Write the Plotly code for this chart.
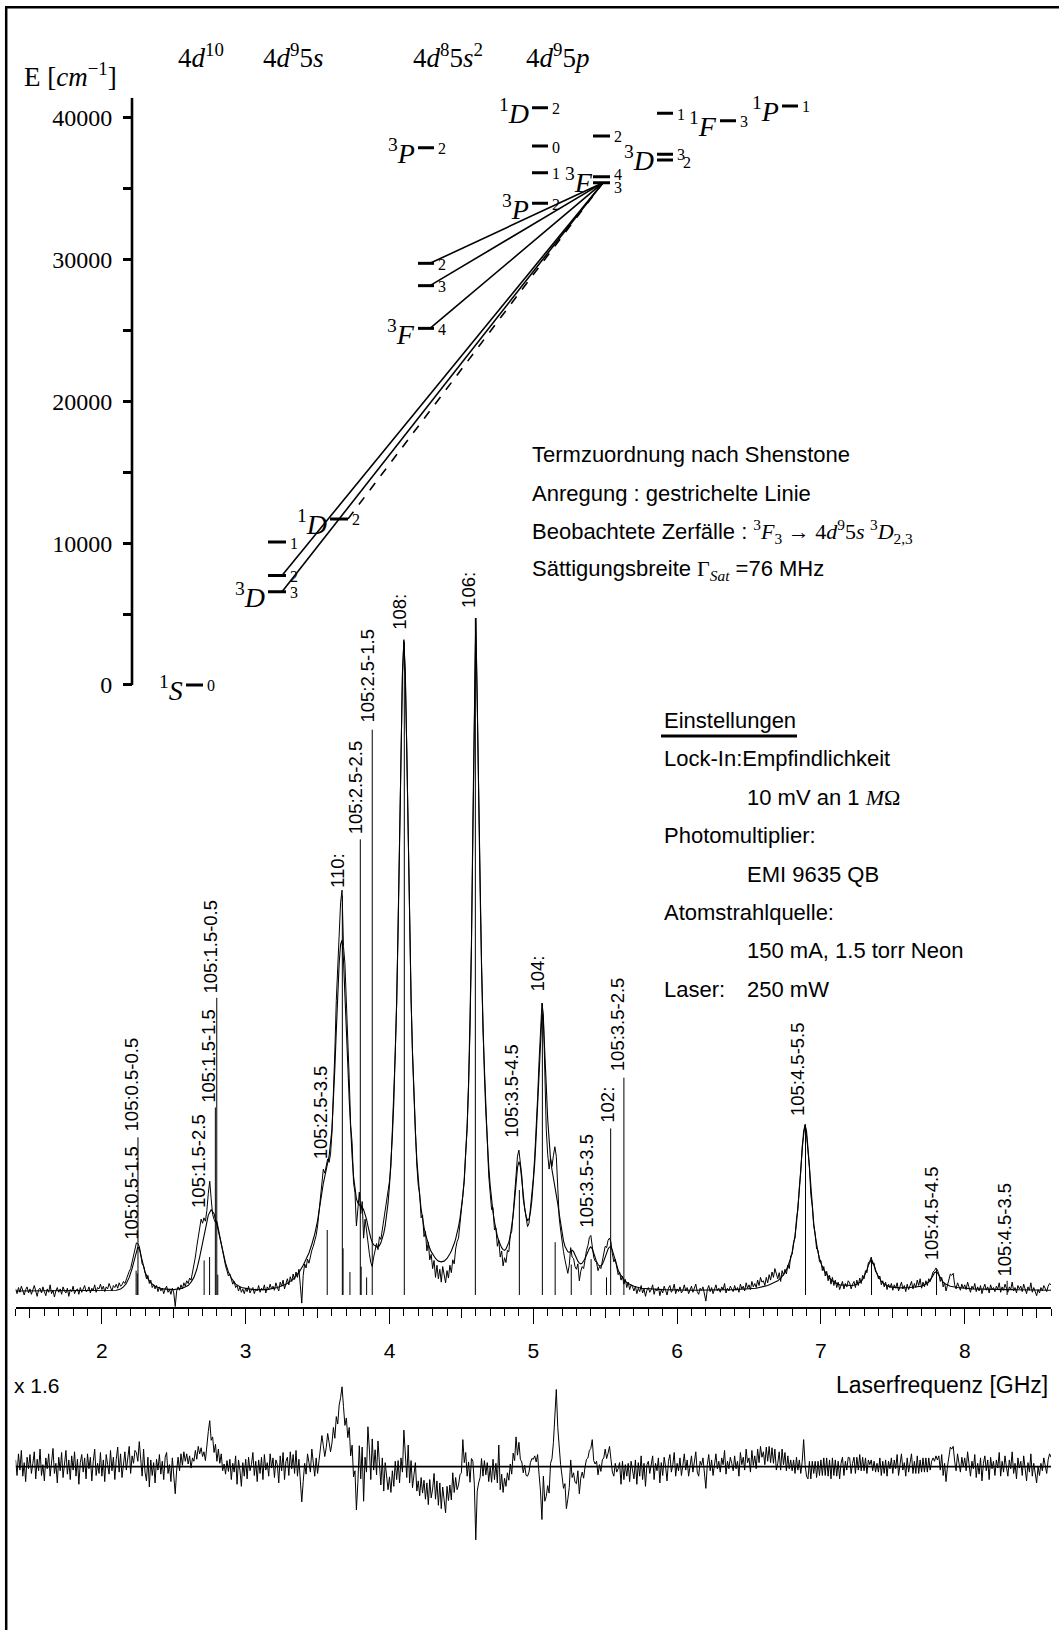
import plotly.graph_objects as go

W, H = 1059, 1630


def PX(x):
    return x / W


def PY(y):
    return 1 - y / H


# ============================ DATA ============================
# ---- energy level diagram (Pd I), energies in cm^-1 ----
config_labels = ["4<i>d</i><sup>10</sup>", "4<i>d</i><sup>9</sup>5<i>s</i>",
                 "4<i>d</i><sup>8</sup>5<i>s</i><sup>2</sup>", "4<i>d</i><sup>9</sup>5<i>p</i>"]
energy_ticks = [0, 10000, 20000, 30000, 40000]
energy_minor = [5000, 15000, 25000, 35000]

lvl_mult = ["1", "3", "", "", "1", "3", "", "", "3", "1", "", "", "3", "3", "", "", "3", "", "", "1", "1"]
lvl_term = ["S", "D", "", "", "D", "F", "", "", "P", "D", "", "", "P", "F", "", "", "D", "", "", "F", "P"]
lvl_J = ["0", "3", "2", "1", "2", "4", "3", "2", "2", "2", "0", "1", "2", "4", "3", "2", "3", "2", "1", "3", "1"]
lvl_E = [0, 6570, 7720, 10080, 11710, 25140, 28150, 29725, 37880,
         40690, 37990, 36110, 33960, 35830, 35410, 38700, 37410, 37010, 40300, 39780, 40815]
lvl_col = ["c0", "c1", "c1", "c1", "c1b", "c2", "c2", "c2", "c2",
           "c3a", "c3a", "c3a", "c3a", "c3b", "c3b", "c3b", "c3c", "c3c", "c3c", "c3d", "c3e"]

trans_upper = 14             # 4d9 5p 3F3
trans_lower = [7, 6, 5, 2, 1]  # observed decays
excite_lower = 4             # excitation (dashed)

# ---- spectrum (Laserfrequenz in GHz, signal in arbitrary units) ----
meas_start = 1.40
meas_step = 0.01
meas_y = [
    0.9, 0.2, 1.1, 0.4, 1.3, 0.5, 0.0, 0.8, 1.2, 0.3,
    0.9, 0.1, 0.7, 1.4, 0.6, -0.2, 0.8, 1.0, 0.3, 1.2,
    0.5, -0.1, 0.9, 0.4, 1.5, 0.2, 0.7, -0.3, 0.6, 1.1,
    0.4, 0.9, 0.1, 1.2, 0.6, 0.3, 1.0, -0.2, 0.8, 0.5,
    1.3, 0.2, 0.7, 0.9, 0.1, 1.1, 0.4, 0.8, 1.4, 0.5,
    0.6, 1.2, 0.3, 1.0, 0.7, 1.5, 0.4, 1.1, 0.9, 1.6,
    0.8, 1.3, 0.5, 1.2, 0.9, 1.7, 1.0, 0.6, 1.4, 1.1,
    1.6, 1.0, 1.8, 1.3, 1.5, 2.0, 1.7, 2.4, 2.8, 3.5,
    3.9, 4.9, 5.6, 6.8, 7.7, 7.6, 7.2, 6.1, 4.6, 4.3,
    3.1, 2.4, 2.9, 1.7, 2.2, 1.1, 1.5, 0.9, 1.4, 0.5,
    1.2, 0.6, 1.0, 0.2, 0.9, 1.3, 0.4, 0.8, 0.1, 1.0,
    0.3, -1.7, 0.6, 1.2, 0.7, 1.5, 0.9, 1.8, 1.3, 2.1,
    1.7, 2.5, 2.2, 3.4, 4.1, 5.6, 7.2, 8.6, 10.1, 11.2,
    10.6, 11.4, 10.9, 12.5, 15.0, 16.8, 14.2, 11.9, 11.2, 10.7,
    10.9, 9.8, 8.7, 7.6, 6.2, 4.9, 4.3, 3.6, 2.8, 3.1,
    2.2, 1.6, 2.0, 1.1, 1.4, 0.6, 1.2, 0.4, 0.9, 0.2,
    1.0, 0.5, 1.3, 0.3, 0.8, 1.1, 0.2, 0.9, 0.6, 1.4,
    0.4, 1.0, 0.7, 1.5, 0.3, 1.2, 0.8, 1.6, 0.9, 1.3,
    0.7, 1.8, 1.1, 0.6, 1.9, 1.3, 2.2, 0.9, 1.7, 2.4,
    1.5, 2.7, 2.0, 3.1, 2.3, 3.4, 2.6, 3.8, 1.4, -1.2,
    2.9, 4.6, 4.0, 5.3, 4.7, 5.9, 6.6, 7.2, 8.0, 8.8,
    10.2, 12.4, 14.8, 17.5, 18.6, 18.0, 19.2, 20.1, 19.6, 20.8,
    24.0, 29.5, 36.0, 43.5, 49.0, 52.5, 58.0, 59.8, 51.5, 49.0,
    44.0, 36.5, 32.0, 25.0, 22.5, 16.6, 15.1, 10.2, 12.2, 15.2,
    12.0, 13.8, 8.4, 11.2, 9.6, 7.4, 6.1, 4.8, 4.2, 5.6,
    6.5, 7.6, 6.7, 8.6, 8.2, 9.6, 10.8, 12.5, 14.2, 15.0,
    16.8, 19.0, 24.2, 28.0, 35.6, 43.0, 54.5, 66.0, 80.5, 91.5,
    96.8, 91.4, 81.0, 66.5, 55.0, 43.6, 36.0, 28.4, 24.5, 19.2,
    16.2, 15.0, 11.4, 11.8, 8.6, 9.4, 6.5, 7.8, 5.2, 6.0,
    3.9, 5.1, 2.6, 4.4, 2.4, 3.8, 1.9, 4.2, 2.7, 1.8,
    3.6, 2.5, 4.4, 3.3, 5.2, 4.6, 6.8, 7.9, 8.4, 10.6,
    12.2, 14.9, 16.8, 20.9, 24.6, 31.4, 39.0, 52.0, 69.5, 88.5,
    100.0, 87.5, 72.5, 59.0, 49.2, 39.0, 33.1, 26.2, 22.9, 17.6,
    15.4, 12.6, 12.9, 9.6, 9.9, 7.2, 8.1, 5.6, 6.5, 4.3,
    5.5, 4.8, 6.6, 6.4, 8.9, 9.4, 12.0, 14.6, 17.8, 20.5,
    21.4, 19.8, 17.6, 14.2, 12.8, 10.9, 10.1, 10.6, 12.6, 14.8,
    17.2, 20.5, 24.0, 29.2, 34.5, 39.8, 43.1, 41.5, 33.0, 24.5,
    20.8, 18.6, 20.2, 19.0, 20.6, 21.9, 20.5, 15.2, 11.4, 9.6,
    7.8, 6.4, 5.2, 4.1, 3.2, 4.4, 7.0, 5.6, 5.4, 4.2,
    3.8, 4.6, 2.1, 3.5, 4.2, 3.9, 5.4, 6.6, 7.3, 8.5,
    8.8, 7.4, 5.6, 5.0, 4.8, 3.6, 4.2, 3.9, 5.1, 5.8,
    7.2, 7.0, 8.1, 8.4, 7.8, 6.1, 4.9, 5.3, 3.8, 3.0,
    3.4, 2.2, 2.8, 1.6, 2.3, 1.1, 1.9, 0.8, 1.5, 1.2,
    0.6, 1.3, 0.2, 1.0, 0.5, 1.4, 0.3, 0.9, -0.2, 0.7,
    1.1, 0.4, 0.8, 1.5, 0.1, 0.9, 0.6, 1.2, -0.1, 0.8,
    0.3, 1.3, 0.7, 0.0, 1.0, 1.4, 0.4, 0.8, 1.6, 0.2,
    0.9, 0.5, 1.2, 0.3, 0.7, 1.5, 0.6, 1.1, 0.2, 0.8,
    1.3, 0.4, 0.9, 1.6, 0.5, 0.1, 1.0, 0.7, 1.2, 0.3,
    -0.9, 0.8, 1.4, 0.5, 1.1, 0.2, 0.9, 1.5, 0.6, 1.0,
    0.4, 1.2, 0.8, 1.7, 0.3, 1.0, 0.6, 1.3, 0.9, 0.5,
    1.4, 0.7, 1.1, 0.4, 1.6, 0.9, 1.3, 0.6, 1.8, 1.0,
    1.5, 0.8, 2.0, 1.2, 1.7, 1.1, 2.2, 1.4, 2.6, 1.9,
    2.1, 1.4, 2.6, 1.8, 3.0, 2.2, 3.4, 2.6, 3.9, 3.1,
    2.4, 3.3, 2.0, 3.6, 2.9, 3.8, 3.1, 4.4, 3.9, 5.8,
    6.0, 7.8, 8.4, 11.2, 12.6, 15.9, 18.2, 22.0, 24.0, 25.2,
    23.6, 21.0, 18.9, 14.8, 13.1, 10.2, 9.1, 6.8, 6.6, 4.9,
    5.1, 3.6, 4.2, 2.8, 3.5, 2.1, 2.9, 1.6, 2.6, 1.4,
    2.2, 1.1, 1.9, 0.8, 1.6, 2.0, 0.9, 1.7, 1.2, 2.1,
    1.8, 0.9, 1.6, 2.0, 1.1, 2.2, 1.4, 2.5, 1.7, 2.9,
    2.4, 3.6, 3.3, 4.8, 5.0, 5.6, 4.6, 4.7, 3.4, 3.3,
    2.4, 2.8, 1.5, 2.1, 1.2, 1.9, 0.8, 1.6, 1.1, 1.7,
    0.7, 1.5, 1.0, 1.8, 0.6, 1.3, 1.9, 0.9, 1.4, 0.5,
    1.6, 0.8, 1.3, 2.0, 0.9, 1.7, 1.1, 2.2, 1.4, 2.4,
    1.0, 1.9, 1.2, 2.1, 1.4, 2.4, 2.0, 2.8, 3.4, 3.6,
    4.0, 3.7, 3.1, 2.0, 2.6, 1.2, 1.8, 0.6, 1.4, 2.2,
    3.1, 2.9, 3.2, 1.5, 0.9, 1.8, 1.2, 0.7, 1.6, 1.0,
    1.5, 0.8, 1.9, 1.1, 0.4, 1.3, 0.9, 1.7, 0.5, 1.2,
    0.6, 1.4, 0.2, 1.0, 1.6, 0.7, 1.2, 0.3, 1.5, 0.8,
    1.1, 0.5, 1.3, 0.9, 1.8, 0.4, 1.2, 0.7, 1.6, 1.0,
    0.4, 1.2, 0.8, 1.9, 0.6, 1.1, 0.3, 1.4, 0.9, 1.3,
    0.5, 1.6, 1.0, 0.2, 1.2, 0.7, 1.8, 0.4, 1.1, 0.6,
    -0.1, 0.8, 0.3, 1.1, 0.6, 1.4, 0.9, 0.5, 1.3, 1.7,
    1.5,
]

fit_points = [
    (1.40, 0.6), (1.80, 0.6), (2.05, 0.6), (2.10, 0.7), (2.13, 0.9), (2.15, 1.2), (2.17, 1.7),
    (2.19, 2.6), (2.21, 3.9), (2.23, 5.6), (2.24, 6.5), (2.25, 7.1), (2.26, 6.8), (2.27, 6.0),
    (2.28, 5.0), (2.29, 4.1), (2.30, 3.4), (2.32, 2.4), (2.34, 1.8), (2.37, 1.3), (2.42, 0.9),
    (2.50, 0.8), (2.56, 1.0), (2.60, 1.4), (2.62, 1.9), (2.64, 2.6), (2.66, 3.8), (2.68, 5.6),
    (2.70, 7.8), (2.72, 10.0), (2.74, 11.8), (2.76, 12.6), (2.78, 12.0), (2.80, 10.4), (2.82, 8.4),
    (2.84, 6.4), (2.86, 4.7), (2.88, 3.4), (2.90, 2.5), (2.93, 1.6), (2.97, 1.1), (3.05, 0.8),
    (3.15, 0.8), (3.22, 1.1), (3.28, 1.6), (3.33, 2.3), (3.37, 3.3), (3.40, 4.4), (3.42, 5.2),
    (3.44, 6.2), (3.46, 7.5), (3.48, 9.0), (3.50, 11.0), (3.52, 13.8), (3.54, 16.5), (3.56, 18.5),
    (3.58, 20.5), (3.60, 24.5), (3.61, 28.5), (3.62, 33.5), (3.63, 39.0), (3.64, 44.5), (3.65, 49.0),
    (3.66, 51.8), (3.67, 52.4), (3.68, 49.5), (3.69, 45.0), (3.70, 39.6), (3.71, 34.0), (3.72, 28.8),
    (3.73, 24.0), (3.74, 20.5), (3.75, 17.5), (3.76, 15.5), (3.77, 14.2), (3.78, 13.6), (3.79, 13.3),
    (3.80, 13.2), (3.81, 13.0), (3.82, 12.6), (3.83, 12.0), (3.84, 11.2), (3.85, 10.2), (3.86, 9.2),
    (3.87, 8.4), (3.88, 7.8), (3.89, 7.4), (3.90, 7.3), (3.91, 7.1), (3.92, 7.1), (3.93, 7.3),
    (3.94, 7.7), (3.95, 8.3), (3.96, 9.1), (3.97, 10.2), (3.98, 11.7), (3.99, 13.6), (4.00, 16.2),
    (4.01, 19.5), (4.02, 23.5), (4.03, 28.5), (4.04, 35.0), (4.05, 43.5), (4.06, 54.0), (4.07, 66.5),
    (4.08, 80.0), (4.09, 92.0), (4.10, 96.5), (4.11, 92.0), (4.12, 80.5), (4.13, 67.0), (4.14, 54.5),
    (4.15, 44.0), (4.16, 35.5), (4.17, 29.0), (4.18, 24.0), (4.19, 20.0), (4.20, 17.0), (4.21, 14.6),
    (4.22, 12.7), (4.23, 11.2), (4.24, 10.0), (4.25, 9.0), (4.26, 8.2), (4.27, 7.5), (4.28, 6.9),
    (4.29, 6.4), (4.30, 6.0), (4.31, 5.7), (4.32, 5.4), (4.33, 5.2), (4.34, 5.0), (4.36, 4.9),
    (4.38, 5.0), (4.40, 5.4), (4.41, 5.7), (4.42, 6.1), (4.43, 6.5), (4.44, 7.0), (4.45, 7.6),
    (4.46, 8.3), (4.47, 9.1), (4.48, 10.1), (4.49, 11.3), (4.50, 12.8), (4.51, 14.7), (4.52, 17.2),
    (4.53, 20.5), (4.54, 25.0), (4.55, 31.0), (4.56, 39.5), (4.57, 51.5), (4.58, 70.0), (4.59, 88.0),
    (4.60, 100.0), (4.61, 88.0), (4.62, 72.0), (4.63, 60.0), (4.64, 48.5), (4.65, 39.5), (4.66, 32.5),
    (4.67, 27.0), (4.68, 22.5), (4.69, 19.0), (4.70, 16.2), (4.71, 14.0), (4.72, 12.2), (4.73, 10.8),
    (4.74, 9.6), (4.75, 8.7), (4.76, 8.0), (4.77, 7.4), (4.78, 7.0), (4.79, 6.7), (4.80, 6.6),
    (4.81, 6.8), (4.82, 7.2), (4.83, 7.8), (4.84, 8.7), (4.85, 10.0), (4.86, 11.8), (4.87, 14.0),
    (4.88, 16.5), (4.89, 18.8), (4.90, 19.7), (4.91, 19.0), (4.92, 17.0), (4.93, 14.8), (4.94, 12.8),
    (4.95, 11.6), (4.96, 11.0), (4.97, 11.2), (4.98, 12.2), (4.99, 14.0), (5.00, 16.5), (5.01, 19.5),
    (5.02, 23.5), (5.03, 28.0), (5.04, 33.5), (5.05, 38.5), (5.06, 41.5), (5.07, 40.5), (5.08, 36.5),
    (5.09, 31.0), (5.10, 26.0), (5.11, 22.5), (5.12, 20.0), (5.13, 18.5), (5.14, 17.3), (5.15, 16.3),
    (5.16, 15.0), (5.17, 13.5), (5.18, 12.0), (5.19, 10.5), (5.20, 9.2), (5.21, 8.0), (5.22, 7.2),
    (5.23, 6.7), (5.24, 6.4), (5.25, 6.3), (5.26, 6.5), (5.27, 6.6), (5.28, 6.4), (5.29, 5.9),
    (5.30, 5.4), (5.31, 5.0), (5.32, 4.7), (5.33, 4.6), (5.34, 4.7), (5.35, 5.0), (5.36, 5.4),
    (5.37, 5.9), (5.38, 6.5), (5.39, 6.9), (5.40, 7.1), (5.41, 6.8), (5.42, 6.2), (5.43, 5.5),
    (5.44, 4.9), (5.45, 4.5), (5.46, 4.3), (5.47, 4.3), (5.48, 4.5), (5.49, 5.0), (5.50, 5.6),
    (5.51, 6.3), (5.52, 6.8), (5.53, 7.1), (5.54, 7.1), (5.55, 6.6), (5.56, 5.8), (5.57, 5.0),
    (5.58, 4.3), (5.59, 3.7), (5.60, 3.2), (5.62, 2.5), (5.64, 2.0), (5.66, 1.7), (5.70, 1.3),
    (5.75, 1.0), (5.80, 0.9), (5.90, 0.8), (6.10, 0.7), (6.40, 0.8), (6.55, 1.0), (6.60, 1.2),
    (6.63, 1.4), (6.66, 1.7), (6.68, 1.9), (6.70, 2.1), (6.72, 2.5), (6.74, 3.0), (6.76, 3.7),
    (6.78, 4.7), (6.79, 5.4), (6.80, 6.3), (6.81, 7.4), (6.82, 8.8), (6.83, 10.6), (6.84, 12.8),
    (6.85, 15.5), (6.86, 18.6), (6.87, 21.7), (6.88, 24.2), (6.89, 25.1), (6.90, 24.2), (6.91, 21.7),
    (6.92, 18.6), (6.93, 15.5), (6.94, 12.8), (6.95, 10.6), (6.96, 8.8), (6.97, 7.4), (6.98, 6.3),
    (6.99, 5.4), (7.00, 4.7), (7.02, 3.7), (7.04, 3.0), (7.06, 2.5), (7.08, 2.1), (7.10, 1.8),
    (7.13, 1.5), (7.18, 1.4), (7.22, 1.4), (7.25, 1.6), (7.27, 1.8), (7.28, 2.0), (7.29, 2.3),
    (7.30, 2.7), (7.31, 3.1), (7.32, 3.7), (7.33, 4.4), (7.34, 4.9), (7.35, 5.2), (7.36, 4.9),
    (7.37, 4.4), (7.38, 3.7), (7.39, 3.1), (7.40, 2.7), (7.41, 2.3), (7.42, 2.0), (7.43, 1.8),
    (7.45, 1.5), (7.48, 1.2), (7.55, 1.05), (7.62, 1.1), (7.66, 1.2), (7.70, 1.3), (7.72, 1.5),
    (7.74, 1.7), (7.75, 1.9), (7.76, 2.2), (7.77, 2.5), (7.78, 2.9), (7.79, 3.3), (7.80, 3.4),
    (7.81, 3.3), (7.82, 2.9), (7.83, 2.5), (7.84, 2.2), (7.85, 1.9), (7.86, 1.7), (7.88, 1.5),
    (7.90, 1.3), (7.95, 1.1), (8.05, 0.9), (8.30, 0.8), (8.60, 0.7),
]

stick_x = [2.238, 2.246, 2.251, 2.711, 2.749, 2.789, 2.799, 2.806, 3.567, 3.672, 3.677, 3.725,
           3.797, 3.803, 3.841, 3.880, 4.103, 4.597, 4.903, 5.063, 5.152, 5.264, 5.402, 5.509,
           5.538, 5.630, 6.893, 7.352, 7.804, 8.295]
stick_h = [3.6, 3.2, 23.3, 5.1, 5.6, 27.7, 43.9, 3.0, 9.6, 59.0, 6.9, 3.4,
           67.3, 4.2, 2.6, 83.5, 96.5, 100.0, 15.5, 43.1, 7.8, 4.5, 5.3, 2.6,
           24.6, 32.1, 25.2, 5.1, 3.8, 2.1]

label_text = ["105:0.5-1.5", "105:0.5-0.5", "105:1.5-2.5", "105:1.5-1.5", "105:1.5-0.5",
              "105:2.5-3.5", "110:", "105:2.5-2.5", "105:2.5-1.5", "108:", "106:",
              "105:3.5-4.5", "104:", "105:3.5-3.5", "102:", "105:3.5-2.5",
              "105:4.5-5.5", "105:4.5-4.5", "105:4.5-3.5"]
label_x = [2.204, 2.204, 2.670, 2.745, 2.755, 3.521, 3.637, 3.765, 3.848, 4.068, 4.553,
           4.850, 5.029, 5.364, 5.510, 5.586, 6.839, 7.768, 8.276]
label_y = [7.9, 23.9, 12.6, 28.1, 44.3, 19.7, 59.8, 67.7, 84.2, 98.0, 101.2,
           22.9, 44.6, 9.6, 25.1, 32.7, 26.1, 4.9, 2.5]

# residual (measured - fit), already multiplied by 1.6
resid_y = [
    1.0, -1.3, 1.9, -0.5, 2.4, -1.4, 0.6, -2.2, 1.4, -0.3,
    1.8, -1.0, 0.5, 2.2, -1.8, 1.1, -0.6, 2.6, -1.3, 0.3,
    -2.1, 1.3, -0.3, 1.9, -1.4, 0.8, 2.7, -1.0, 0.5, -2.4,
    1.4, -0.6, 2.1, -1.6, 0.3, 2.4, -1.1, 1.0, -1.9, 1.6,
    -0.5, 2.2, -1.4, 1.1, -2.6, 0.6, 1.8, -0.8, 1.3, -1.8,
    1.9, -0.3, 1.4, -2.1, 0.8, 2.6, -1.3, 0.5, -1.0, 2.1,
    -1.4, 1.0, -2.2, 1.8, 0.3, -1.1, 2.4, -0.6, 1.4, -1.9,
    1.1, 2.9, -0.8, 1.9, -1.6, 0.6, 2.2, -0.5, 1.3, 3.0,
    -1.0, 1.6, 0.5, 2.4, 2.1, 0.8, 3.7, 0.3, -1.4, 2.6,
    -0.8, -2.1, 1.4, -3.0, 1.0, -1.3, 0.6, -2.4, 1.1, -0.5,
    1.8, -1.1, 0.8, -1.9, 1.4, 2.1, -1.0, 0.3, -2.2, 1.3,
    -1.3, -4.0, -0.5, 1.4, -0.6, 1.9, 0.2, 2.2, 0.8, 1.9,
    0.4, 1.6, -0.2, 1.3, 0.8, 2.4, 1.1, 3.0, 1.9, 2.8,
    1.5, 2.2, 0.9, 3.6, 5.2, 6.8, 3.9, 4.4, 2.1, 3.3,
    0.8, 2.6, 0.5, 1.9, -0.6, 0.4, -1.1, 0.9, -0.7, 1.1,
    -1.9, 0.5, -0.8, 1.6, -2.6, 1.0, -0.5, -2.9, 0.6, -1.4,
    1.1, -1.8, 1.4, -0.6, 0.3, 2.1, -1.3, 0.8, -2.2, 1.0,
    -1.0, 1.4, -1.9, 1.8, -0.5, 0.6, -1.4, 1.9, -0.2, 1.3,
    -1.6, 1.0, 0.3, -2.4, 1.6, -0.6, 2.1, -1.9, 0.8, 1.4,
    -1.3, 2.2, -0.3, 1.8, -1.0, 2.4, -1.4, 1.1, -2.6, -5.2,
    -2.2, 0.5, -1.1, 1.9, 0.6, -0.8, 2.6, 0.3, -1.4, 1.3,
    -1.0, 0.9, 2.4, 4.6, 3.1, 1.5, 2.8, 4.9, 3.6, 2.2,
    3.5, 5.8, 4.2, 7.4, 6.3, 9.1, 10.2, 11.8, 8.9, 6.1,
    7.2, 4.3, 5.8, 1.6, 3.2, -1.5, -0.6, -6.4, -2.3, 3.1,
    -1.8, 2.9, -5.1, 1.4, -0.8, 5.9, 2.6, -1.9, 4.1, -0.5,
    2.5, -1.2, 3.8, 0.4, -2.7, 1.3, -3.6, 0.6, -2.1, -3.4,
    -1.5, -3.8, -0.6, -2.9, 0.8, -1.9, 0.9, -2.4, 1.3, -0.8,
    5.4, 1.2, -1.6, 3.2, -2.4, 0.9, -3.1, -1.2, 0.6, -3.6,
    -2.1, -4.3, -1.6, -3.9, -2.0, -4.8, -2.4, -5.6, -1.9, -4.6,
    -3.3, -1.0, -4.8, -2.1, -5.7, -2.4, -6.2, -3.0, -4.6, -6.8,
    -2.9, -5.0, -2.7, -4.9, -0.9, -3.8, -1.6, -3.4, -2.7, -1.2,
    -0.9, 4.0, 0.6, 2.1, -1.4, 0.7, -2.3, 1.2, 0.8, -2.6,
    -10.8, -3.6, -2.4, -1.6, 1.2, -1.4, 0.9, -1.2, 0.6, -2.2,
    -0.1, -2.3, 1.1, -1.9, 0.5, -2.4, 3.2, -3.4, -1.1, -3.8,
    -1.7, -2.9, -0.9, -2.0, 0.4, -1.1, 2.0, 0.9, 4.4, 1.7,
    3.6, 1.1, 0.7, -0.9, 0.2, -1.3, -1.4, -0.8, 0.6, 1.2,
    1.1, 1.6, 0.7, 1.8, -1.1, -3.6, -7.8, -1.4, -5.1, -4.4,
    -2.8, -3.9, 0.5, 1.2, 3.6, 6.9, 11.4, 5.8, 2.4, 0.3,
    -1.4, -3.2, -2.5, -6.2, -4.8, -3.1, 1.0, -1.6, -0.9, -2.3,
    -2.5, -0.6, -4.0, -1.7, -0.8, -1.7, 0.0, 1.1, 1.3, 2.4,
    2.7, 4.0, 0.9, 0.4, 0.8, -1.2, 0.3, -0.7, 1.0, 1.3,
    2.6, 1.2, 2.0, 3.0, 1.1, -0.8, -1.4, 0.5, -0.8, -0.3,
    0.6, -2.6, 0.8, -1.9, 0.3, -1.4, 0.5, -2.2, 0.8, -0.3,
    -1.8, 1.0, -2.6, 0.6, -1.4, 1.6, -1.9, 0.5, -2.9, 0.3,
    0.8, -1.0, 0.2, 1.6, -1.9, 0.5, -0.6, 1.3, -2.4, 0.6,
    -1.3, 1.4, 0.0, -2.1, 0.8, 1.8, -0.8, 0.3, 2.1, -1.4,
    0.5, -0.6, 1.3, -1.3, 0.2, 1.9, -0.5, 1.0, -1.4, 0.3,
    1.6, -0.8, 0.5, 2.2, -0.8, -1.4, 0.8, 0.2, 1.3, -1.0,
    -3.2, 0.3, 1.8, -0.6, 1.0, -1.3, 0.6, 1.9, -0.3, 0.8,
    -0.8, 1.3, 0.3, 2.4, -1.1, 0.8, -0.3, 1.4, 0.5, -0.6,
    1.6, -0.3, 0.8, -1.4, 2.1, 0.3, 1.4, -0.5, 2.6, 0.6,
    1.3, -0.8, 2.4, 0.2, 1.6, -0.3, 2.6, 0.6, 3.0, 1.4,
    2.2, 0.3, 2.9, 0.8, 3.0, 0.6, 2.8, 0.5, 2.6, -0.5,
    0.5, 2.2, -0.5, 2.6, 0.3, 2.1, -0.6, 1.6, -0.3, 1.0,
    -0.6, 1.0, -1.0, 1.4, -0.5, 1.0, -1.0, 0.8, 4.0, 0.3,
    -1.4, -1.8, 0.8, -1.8, 0.8, -1.0, 0.8, -1.6, 0.8, -1.3,
    1.0, -1.3, 1.3, -1.3, 1.3, -1.4, 1.0, -1.8, 1.3, -1.3,
    1.0, -1.4, 0.8, -1.8, 0.5, 1.4, -1.3, 0.8, -0.5, 1.4,
    1.3, -1.0, 0.5, 1.4, -1.0, 1.4, -0.5, 1.8, -0.6, 1.4,
    -0.6, 1.3, -1.0, 1.0, 0.3, 1.0, -0.6, 0.8, -0.8, 0.5,
    -0.8, 1.3, -1.3, 0.8, -1.0, 1.0, -1.4, 0.8, -0.3, 1.3,
    -1.0, 1.0, -0.3, 1.8, -1.3, 0.5, 1.9, -0.5, 0.6, -1.4,
    1.3, -0.8, 0.3, 1.9, -1.0, 0.8, -1.0, 1.6, -1.0, 1.0,
    -0.8, 1.3, -0.8, 1.3, -0.8, 1.3, -0.5, 0.8, 1.3, 0.8,
    1.6, 1.0, 1.6, -0.5, 1.8, -1.3, 0.5, -2.2, 0.0, 1.9,
    2.9, 2.6, 3.0, 0.8, -0.6, 1.9, 0.5, -0.8, 1.4, 0.0,
    1.3, -0.6, 2.2, 0.3, -1.4, 0.8, -0.3, 1.8, -1.6, 0.5,
    -1.1, 1.3, -2.1, 0.5, 1.6, -0.6, 1.0, -1.9, 1.4, -0.3,
    0.8, -1.3, 1.0, -0.2, 2.1, -1.4, 0.8, -0.8, 1.6, 0.0,
    -1.4, 1.0, -0.3, 2.2, -1.0, 0.5, -1.8, 1.3, -0.2, 0.8,
    -1.3, 1.6, 0.0, -2.1, 0.6, -0.8, 1.9, -1.4, 0.5, -1.0,
    -2.4, 0.0, -1.3, 0.5, -0.6, 1.3, 0.2, -1.0, 1.0, 1.9,
    1.4,
]

freq_ticks = [2, 3, 4, 5, 6, 7, 8]
freq_half_ticks = [1.5, 2.5, 3.5, 4.5, 5.5, 6.5, 7.5, 8.5]

# ============================ LAYOUT CONSTANTS ============================
SERIF = "Liberation Serif, DejaVu Serif, serif"
SANS = "Liberation Sans, Arial, sans-serif"
COLS = {"c0": (186, 203), "c1": (268, 286), "c1b": (330, 348), "c2": (418, 434),
        "c3a": (532, 548), "c3b": (593, 610), "c3c": (657, 673), "c3d": (720, 736), "c3e": (782, 798)}
J_DX = {17: 6}
J_DY = {13: 3, 14: -4, 16: 1, 17: -2}
TERM_DX = {13: 3}

E_PIX0, E_PPU = 685.0, 0.014186   # y pixel of E=0, pixels per cm^-1
E_MIN, E_MAX = -1500, 41400
S_PIX0, S_PPU = 1295.0, 6.77      # y pixel of signal 0, pixels per unit
S_MIN, S_MAX = -1.77, 105.0
R_PIX0 = 1466.7
R_MIN, R_MAX = -22.64, 12.07
F_MIN, F_MAX = 1.40, 8.60

fig = go.Figure()

# ---- energy diagram traces ----
fig.add_trace(go.Scatter(x=[132, 132], y=[0, E_MAX], mode="lines", xaxis="x", yaxis="y",
                         line=dict(color="black", width=2.6), hoverinfo="skip"))
lx, ly = [], []
for E, c in zip(lvl_E, lvl_col):
    x0, x1 = COLS[c]
    lx += [x0, x1, None]
    ly += [E, E, None]
fig.add_trace(go.Scatter(x=lx, y=ly, mode="lines", xaxis="x", yaxis="y",
                         line=dict(color="black", width=3), hoverinfo="skip"))

ux = COLS[lvl_col[trans_upper]][0] + 10
uE = lvl_E[trans_upper]
tx, ty = [], []
for i in trans_lower:
    tx += [COLS[lvl_col[i]][1] - 4, ux, None]
    ty += [lvl_E[i], uE, None]
fig.add_trace(go.Scatter(x=tx, y=ty, mode="lines", xaxis="x", yaxis="y",
                         line=dict(color="black", width=1.6), hoverinfo="skip"))
fig.add_trace(go.Scatter(x=[COLS[lvl_col[excite_lower]][1], ux], y=[lvl_E[excite_lower], uE],
                         mode="lines", xaxis="x", yaxis="y",
                         line=dict(color="black", width=1.6, dash="dash"), hoverinfo="skip"))

# ---- spectrum traces ----
meas_x = [round(meas_start + meas_step * i, 3) for i in range(len(meas_y))]
fig.add_trace(go.Scatter(x=meas_x, y=meas_y, mode="lines", xaxis="x2", yaxis="y2",
                         line=dict(color="black", width=1), hoverinfo="skip"))
fit_x = [p[0] for p in fit_points]
fit_y = [p[1] for p in fit_points]
fig.add_trace(go.Scatter(x=fit_x, y=fit_y, mode="lines", xaxis="x2", yaxis="y2",
                         line=dict(color="black", width=1.1), hoverinfo="skip"))
sx, sy = [], []
for xv, hv in zip(stick_x, stick_h):
    sx += [xv, xv, None]
    sy += [0, hv, None]
fig.add_trace(go.Scatter(x=sx, y=sy, mode="lines", xaxis="x2", yaxis="y2",
                         line=dict(color="black", width=1), hoverinfo="skip"))
fig.add_trace(go.Scatter(x=[], y=[], mode="lines", xaxis="x4", yaxis="y2", hoverinfo="skip"))

# ---- residual ----
res_x = [round(meas_start + meas_step * i, 3) for i in range(len(resid_y))]
fig.add_trace(go.Scatter(x=[F_MIN, F_MAX], y=[0, 0], mode="lines", xaxis="x3", yaxis="y3",
                         line=dict(color="black", width=1.8), hoverinfo="skip"))
fig.add_trace(go.Scatter(x=res_x, y=resid_y, mode="lines", xaxis="x3", yaxis="y3",
                         line=dict(color="black", width=1), hoverinfo="skip"))

# ---- annotations ----
ann = []


def paper_text(x, y, text, size, family, xanchor="center", yanchor="middle"):
    ann.append(dict(x=PX(x), y=PY(y), xref="paper", yref="paper", text=text, showarrow=False,
                    xanchor=xanchor, yanchor=yanchor, font=dict(size=size, family=family, color="black")))


# energy diagram headers
paper_text(70, 75, "E [<i>cm</i><sup>−1</sup>]", 27, SERIF)
for cx, t in zip([201, 293, 448, 557], config_labels):
    paper_text(cx, 56, t, 27, SERIF)

for k in range(len(lvl_E)):
    x0, x1 = COLS[lvl_col[k]]
    if lvl_term[k]:
        ann.append(dict(x=x0 - 1 + TERM_DX.get(k, 0), y=lvl_E[k], xref="x", yref="y", showarrow=False,
                        text="<sup>%s</sup><i>%s</i>" % (lvl_mult[k], lvl_term[k]),
                        xanchor="right", yanchor="middle", yshift=-4,
                        font=dict(size=28, family=SERIF, color="black")))
    ann.append(dict(x=x1 + 2 + J_DX.get(k, 0), y=lvl_E[k], xref="x", yref="y", showarrow=False,
                    text=lvl_J[k], xanchor="left", yanchor="middle", yshift=J_DY.get(k, 0) - 1,
                    font=dict(size=16, family=SERIF, color="black")))

# info text
info1 = ["Termzuordnung nach Shenstone",
         "Anregung : gestrichelte Linie",
         "Beobachtete Zerfälle : <span style='font-family:Liberation Serif'><sup>3</sup><i>F</i><sub>3</sub> → 4<i>d</i><sup>9</sup>5<i>s</i> <sup>3</sup><i>D</i><sub>2,3</sub></span>",
         "Sättigungsbreite <span style='font-family:Liberation Serif'>Γ<sub><i>Sat</i></sub></span> =76 MHz"]
for t, yy in zip(info1, [455, 493.5, 531.5, 569.5]):
    paper_text(530, yy, t, 22, SANS, xanchor="left")

info2 = [(662, 720, "Einstellungen"),
         (662, 758.5, "Lock-In:Empfindlichkeit"),
         (745, 797, "10 mV an 1 <span style='font-family:Liberation Serif'><i>M</i>Ω</span>"),
         (662, 835.5, "Photomultiplier:"),
         (745, 874, "EMI 9635 QB"),
         (662, 912.5, "Atomstrahlquelle:"),
         (745, 951, "150 mA, 1.5 torr Neon"),
         (662, 989.5, "Laser:"),
         (745, 989.5, "250 mW")]
for xx, yy, t in info2:
    paper_text(xx, yy, t, 22, SANS, xanchor="left")

paper_text(12, 1385, "x 1.6", 21, SANS, xanchor="left")
paper_text(1050, 1385, "Laserfrequenz [GHz]", 23, SANS, xanchor="right")

# stick labels
for t, xx, yy in zip(label_text, label_x, label_y):
    ann.append(dict(x=xx, y=yy, xref="x2", yref="y2", text=t, showarrow=False, textangle=-90,
                    xanchor="center", yanchor="bottom",
                    font=dict(size=18.5, family=SANS, color="black")))

shapes = [
    dict(type="line", xref="paper", yref="paper", x0=PX(6.2), x1=PX(6.2), y0=PY(7.3), y1=0,
         line=dict(color="black", width=2.5)),
    dict(type="line", xref="paper", yref="paper", x0=PX(5), x1=1, y0=PY(7.3), y1=PY(7.3),
         line=dict(color="black", width=2.5)),
    dict(type="line", xref="paper", yref="paper", x0=PX(661), x1=PX(797), y0=PY(736), y1=PY(736),
         line=dict(color="black", width=3)),
]

x2dom = [PX(15.6), PX(1051.0)]
fig.update_layout(
    width=W, height=H, margin=dict(l=0, r=0, t=0, b=0),
    paper_bgcolor="white", plot_bgcolor="rgba(0,0,0,0)", showlegend=False,
    annotations=ann, shapes=shapes,
    xaxis=dict(domain=[0, 1], range=[0, W], visible=False, anchor="y", fixedrange=True),
    yaxis=dict(domain=[PY(E_PIX0 + (-E_MIN) * E_PPU), PY(E_PIX0 - E_MAX * E_PPU)],
               range=[E_MIN, E_MAX], anchor="free", position=PX(132), side="left",
               showline=False, showgrid=False, zeroline=False,
               tickmode="array", tickvals=energy_ticks, ticktext=[str(v) for v in energy_ticks],
               ticks="outside", ticklen=9, tickwidth=2.5, tickcolor="black",
               ticklabelstandoff=6,
               tickfont=dict(size=24, family=SERIF, color="black"),
               minor=dict(tickmode="array", tickvals=energy_minor, ticks="outside",
                          ticklen=9, tickwidth=2.5, tickcolor="black", showgrid=False)),
    xaxis2=dict(domain=x2dom, range=[F_MIN, F_MAX], anchor="y2",
                showline=True, linecolor="black", linewidth=1.6, mirror=False,
                showgrid=False, zeroline=False,
                tickmode="array", tickvals=freq_ticks, ticktext=[str(v) for v in freq_ticks],
                ticks="outside", ticklen=15, tickwidth=1.4, tickcolor="black",
                ticklabelstandoff=9,
                tickfont=dict(size=21, family=SANS, color="black"),
                minor=dict(dtick=0.1, tick0=0, ticks="outside", ticklen=7, tickwidth=1.2,
                           tickcolor="black", showgrid=False)),
    xaxis4=dict(domain=x2dom, range=[F_MIN, F_MAX], anchor="y2", overlaying="x2",
                showline=False, showgrid=False, zeroline=False, showticklabels=False,
                tickmode="array", tickvals=freq_half_ticks, ticks="outside", ticklen=10,
                tickwidth=1.4, tickcolor="black"),
    yaxis2=dict(domain=[PY(S_PIX0 - S_MIN * S_PPU), PY(S_PIX0 - S_MAX * S_PPU)],
                range=[S_MIN, S_MAX], anchor="x2", visible=False),
    xaxis3=dict(domain=x2dom, range=[F_MIN, F_MAX], anchor="y3", visible=False),
    yaxis3=dict(domain=[PY(R_PIX0 - R_MIN * S_PPU), PY(R_PIX0 - R_MAX * S_PPU)],
                range=[R_MIN, R_MAX], anchor="x3", visible=False),
)

fig.write_html("out.html")
